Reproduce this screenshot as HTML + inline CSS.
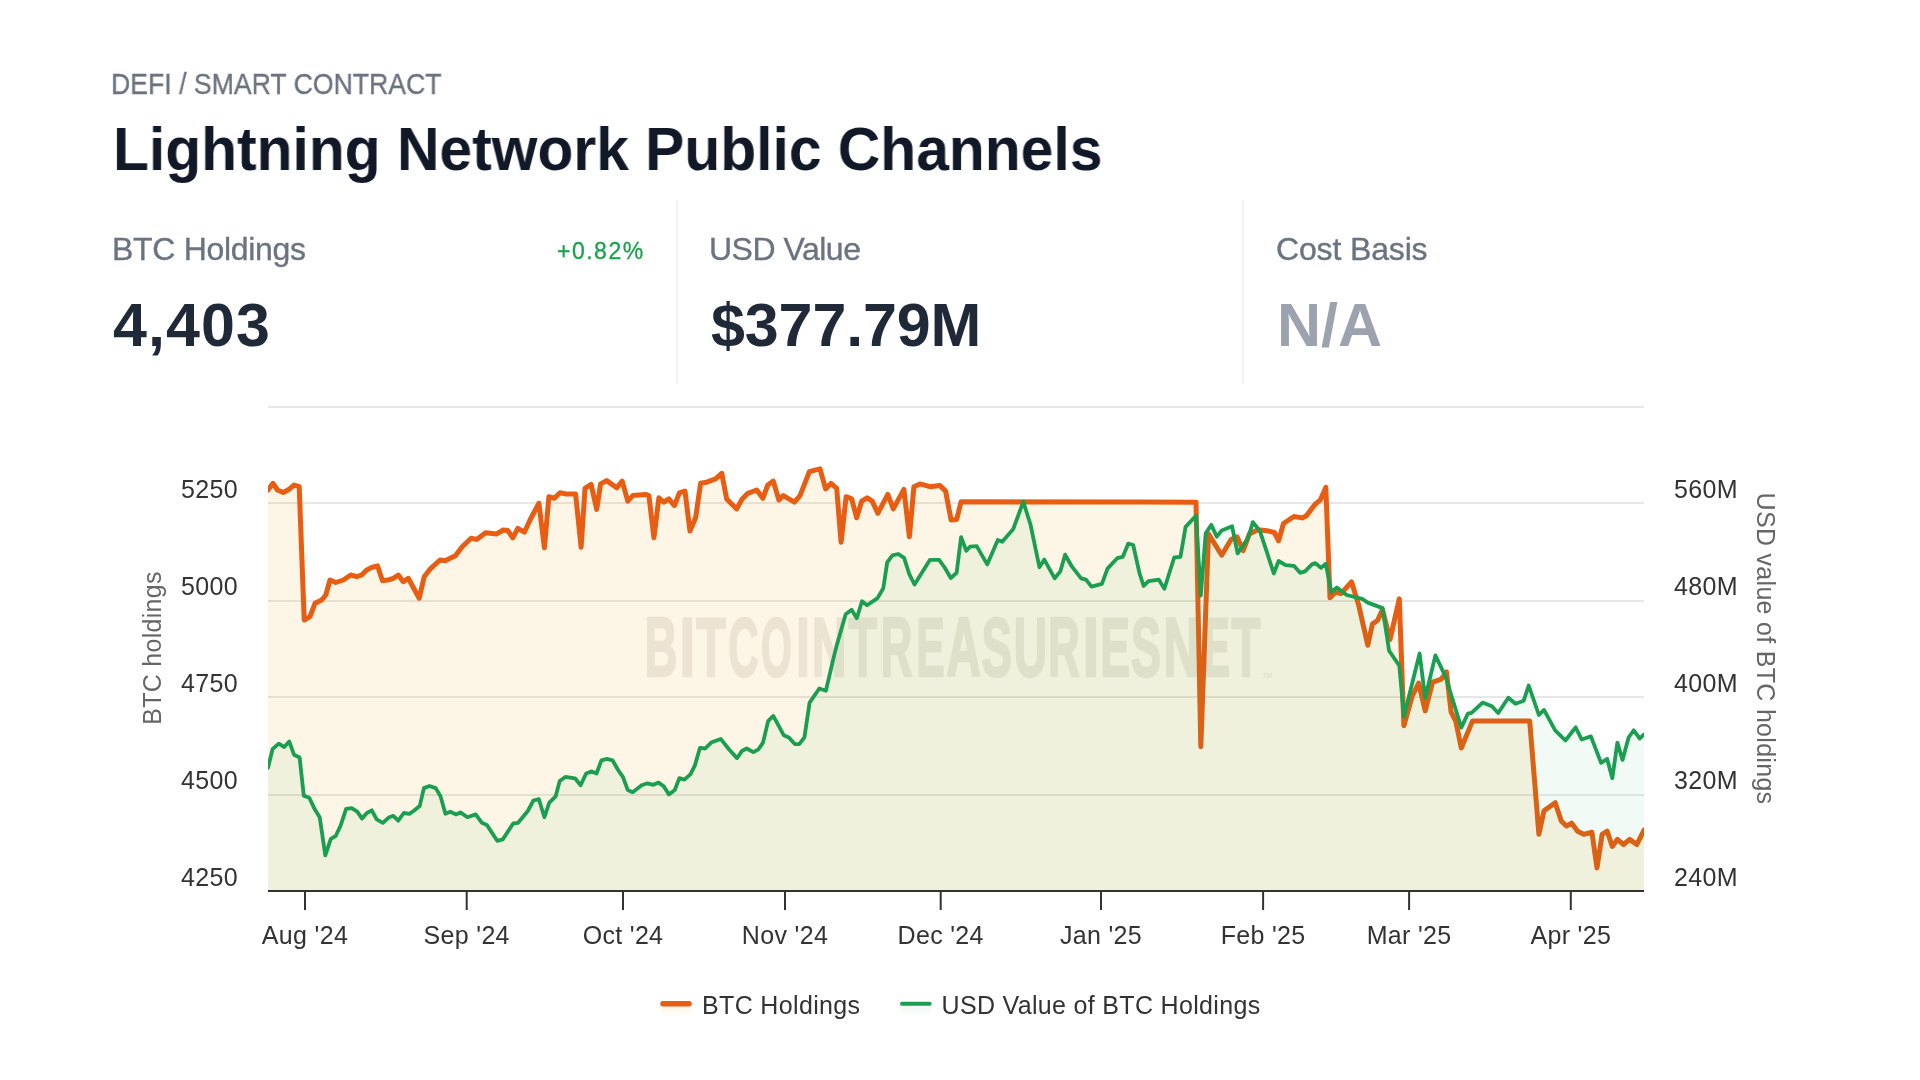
<!DOCTYPE html>
<html><head><meta charset="utf-8"><title>Lightning Network Public Channels</title>
<style>
html,body{margin:0;padding:0;background:#ffffff;}
body{width:1920px;height:1080px;position:relative;overflow:hidden;font-family:"Liberation Sans",sans-serif;}
.t{position:absolute;white-space:nowrap;line-height:1;-webkit-font-smoothing:antialiased;will-change:transform;}
svg{-webkit-font-smoothing:antialiased;will-change:transform;}
.div{position:absolute;width:2px;background:#f1f2f4;}
</style></head><body>
<div class="t" style="left:111px;top:69px;font-size:29.5px;color:#6b7280;letter-spacing:0px;transform:scaleX(0.903);transform-origin:0 0;-webkit-text-stroke:0.35px #6b7280;">DEFI / SMART CONTRACT</div>
<div class="t" style="left:113px;top:119px;font-size:61px;font-weight:bold;color:#111827;letter-spacing:0px;transform:scaleX(0.9635);transform-origin:0 0;">Lightning Network Public Channels</div>
<div class="t" style="left:112px;top:232.5px;font-size:32px;color:#6b7280;-webkit-text-stroke:0.35px #6b7280;letter-spacing:-0.3px;">BTC Holdings</div>
<div class="t" style="left:557px;top:240px;font-size:23px;color:#16a34a;letter-spacing:1.5px;-webkit-text-stroke:0.3px #16a34a;">+0.82%</div>
<div class="t" style="left:112.5px;top:295px;font-size:61px;font-weight:bold;color:#1f2937;letter-spacing:1.1px;">4,403</div>
<div class="div" style="left:676px;top:200px;height:184px;"></div>
<div class="t" style="left:709px;top:232.5px;font-size:32px;color:#6b7280;-webkit-text-stroke:0.35px #6b7280;letter-spacing:-0.5px;">USD Value</div>
<div class="t" style="left:711px;top:295px;font-size:61px;font-weight:bold;color:#1f2937;letter-spacing:-0.13px;">$377.79M</div>
<div class="div" style="left:1242px;top:200px;height:184px;"></div>
<div class="t" style="left:1276px;top:232.5px;font-size:32px;color:#6b7280;-webkit-text-stroke:0.35px #6b7280;letter-spacing:-0.15px;">Cost Basis</div>
<div class="t" style="left:1277px;top:295px;font-size:61px;font-weight:bold;color:#9ca3af;letter-spacing:0px;">N/A</div>
<svg width="1920" height="1080" viewBox="0 0 1920 1080" style="position:absolute;left:0;top:0"><rect x="268" y="406.2" width="1376" height="1.6" fill="#e2e2e2"/><rect x="268" y="502.2" width="1376" height="1.6" fill="#e2e2e2"/><rect x="268" y="600.2" width="1376" height="1.6" fill="#e2e2e2"/><rect x="268" y="696.2" width="1376" height="1.6" fill="#e2e2e2"/><rect x="268" y="794.2" width="1376" height="1.6" fill="#e2e2e2"/><g opacity="0.16" fill="#8c8670" stroke="#8c8670" stroke-width="2.40" stroke-linejoin="round" font-family="Liberation Sans" font-weight="bold" font-size="84.0"><text transform="translate(644.54 676.40) scale(0.5444 1)">B</text><text transform="translate(679.49 676.40) scale(0.6692 1)">I</text><text transform="translate(696.21 676.40) scale(0.5754 1)">T</text><text transform="translate(728.24 676.40) scale(0.5003 1)">C</text><text transform="translate(760.90 676.40) scale(0.4728 1)">O</text><text transform="translate(796.12 676.40) scale(0.5933 1)">I</text><text transform="translate(811.70 676.40) scale(0.5754 1)">N</text><text transform="translate(848.61 676.40) scale(0.5541 1)">T</text><text transform="translate(880.73 676.40) scale(0.5231 1)">R</text><text transform="translate(916.29 676.40) scale(0.5080 1)">E</text><text transform="translate(946.54 676.40) scale(0.5675 1)">A</text><text transform="translate(981.38 676.40) scale(0.5434 1)">S</text><text transform="translate(1013.78 676.40) scale(0.5513 1)">U</text><text transform="translate(1048.12 676.40) scale(0.5249 1)">R</text><text transform="translate(1082.64 676.40) scale(0.7036 1)">I</text><text transform="translate(1100.19 676.40) scale(0.5322 1)">E</text><text transform="translate(1131.09 676.40) scale(0.5358 1)">S</text><text transform="translate(1163.44 676.40) scale(0.5889 1)">N</text><text transform="translate(1203.99 676.40) scale(0.4616 1)">E</text><text transform="translate(1231.41 676.40) scale(0.5657 1)">T</text></g><text x="1262" y="678" font-family="Liberation Sans" font-size="7" fill="#8c8670" fill-opacity="0.2">TM</text><defs><clipPath id="pc"><rect x="268" y="380" width="1376" height="511"/></clipPath></defs><g clip-path="url(#pc)"><path d="M268.0 490.0 L273.0 483.3 L277.5 490.0 L283.3 492.5 L289.2 489.2 L294.2 485.0 L299.2 486.7 L304.2 620.0 L310.0 616.7 L315.0 603.3 L321.7 600.0 L325.8 595.0 L330.0 580.0 L335.8 582.5 L343.3 580.0 L350.8 575.0 L356.7 576.7 L361.7 575.0 L366.7 570.0 L371.7 567.5 L377.5 565.8 L382.5 580.8 L389.2 579.7 L393.3 578.3 L398.3 575.0 L403.3 581.7 L408.3 578.3 L419.2 598.3 L424.2 576.7 L430.0 569.2 L440.0 560.0 L445.0 560.8 L453.3 556.7 L455.6 555.6 L462.2 546.7 L471.1 538.3 L476.7 539.4 L485.6 532.8 L496.7 533.9 L503.3 530.0 L507.8 530.6 L512.8 537.8 L517.8 528.3 L524.4 532.2 L530.0 520.0 L538.9 503.3 L544.4 547.8 L548.9 496.7 L554.4 498.3 L560.0 492.8 L565.6 493.9 L575.6 493.9 L581.1 547.2 L585.0 488.3 L591.1 484.4 L596.7 509.4 L600.6 483.9 L606.7 480.6 L616.7 487.8 L622.2 481.1 L627.8 501.1 L632.8 495.6 L645.6 494.4 L648.9 495.6 L653.9 537.8 L658.9 497.8 L663.9 502.2 L668.9 498.9 L674.4 505.6 L679.4 492.8 L685.0 491.1 L690.0 531.1 L695.6 517.8 L700.6 483.3 L706.7 482.2 L715.6 478.9 L721.7 473.3 L726.7 498.9 L736.7 508.9 L742.2 498.9 L747.8 493.3 L756.7 490.0 L762.8 498.3 L767.8 485.0 L773.3 481.1 L778.9 500.0 L783.3 495.6 L794.4 502.2 L800.0 495.6 L809.4 471.7 L820.0 468.9 L825.6 488.9 L831.1 483.3 L836.7 488.3 L841.1 542.2 L846.1 496.7 L851.7 498.9 L856.7 517.8 L861.7 501.1 L867.2 497.8 L872.2 501.1 L877.8 513.3 L887.8 494.4 L893.3 508.9 L903.9 489.4 L909.4 536.7 L913.9 486.7 L920.0 483.9 L930.0 486.7 L940.0 485.6 L945.6 491.1 L951.1 520.0 L956.7 519.4 L961.1 501.7 L1196.0 502.2 L1200.8 746.7 L1208.5 533.9 L1221.7 555.2 L1231.0 539.5 L1237.0 536.8 L1243.2 550.6 L1249.4 533.9 L1257.8 529.7 L1268.9 531.1 L1274.4 532.5 L1278.6 540.8 L1283.5 523.5 L1293.9 516.5 L1302.2 517.9 L1306.4 515.8 L1314.7 504.7 L1320.3 499.9 L1325.8 487.4 L1330.0 597.8 L1335.6 592.2 L1341.1 593.6 L1351.5 581.8 L1358.5 604.4 L1367.8 645.2 L1372.5 623.8 L1377.5 620.5 L1382.5 609.5 L1390.0 639.5 L1399.3 598.9 L1403.9 725.7 L1412.2 696.1 L1418.7 683.1 L1425.2 710.9 L1432.6 682.2 L1440.9 679.4 L1446.5 672.0 L1451.1 711.9 L1455.7 721.1 L1461.3 748.0 L1472.4 721.1 L1529.7 721.1 L1538.9 834.3 L1544.0 810.8 L1555.2 802.7 L1561.3 821.0 L1566.4 826.1 L1571.5 823.1 L1577.6 831.2 L1583.8 834.3 L1591.9 832.2 L1597.0 867.9 L1602.1 834.3 L1607.2 831.2 L1612.3 846.5 L1617.4 839.4 L1623.5 844.5 L1629.6 839.4 L1636.8 844.5 L1644.0 830.2 L1644 891 L268 891 Z" fill="rgb(235,155,5)" fill-opacity="0.10"/><path d="M268.0 490.0 L273.0 483.3 L277.5 490.0 L283.3 492.5 L289.2 489.2 L294.2 485.0 L299.2 486.7 L304.2 620.0 L310.0 616.7 L315.0 603.3 L321.7 600.0 L325.8 595.0 L330.0 580.0 L335.8 582.5 L343.3 580.0 L350.8 575.0 L356.7 576.7 L361.7 575.0 L366.7 570.0 L371.7 567.5 L377.5 565.8 L382.5 580.8 L389.2 579.7 L393.3 578.3 L398.3 575.0 L403.3 581.7 L408.3 578.3 L419.2 598.3 L424.2 576.7 L430.0 569.2 L440.0 560.0 L445.0 560.8 L453.3 556.7 L455.6 555.6 L462.2 546.7 L471.1 538.3 L476.7 539.4 L485.6 532.8 L496.7 533.9 L503.3 530.0 L507.8 530.6 L512.8 537.8 L517.8 528.3 L524.4 532.2 L530.0 520.0 L538.9 503.3 L544.4 547.8 L548.9 496.7 L554.4 498.3 L560.0 492.8 L565.6 493.9 L575.6 493.9 L581.1 547.2 L585.0 488.3 L591.1 484.4 L596.7 509.4 L600.6 483.9 L606.7 480.6 L616.7 487.8 L622.2 481.1 L627.8 501.1 L632.8 495.6 L645.6 494.4 L648.9 495.6 L653.9 537.8 L658.9 497.8 L663.9 502.2 L668.9 498.9 L674.4 505.6 L679.4 492.8 L685.0 491.1 L690.0 531.1 L695.6 517.8 L700.6 483.3 L706.7 482.2 L715.6 478.9 L721.7 473.3 L726.7 498.9 L736.7 508.9 L742.2 498.9 L747.8 493.3 L756.7 490.0 L762.8 498.3 L767.8 485.0 L773.3 481.1 L778.9 500.0 L783.3 495.6 L794.4 502.2 L800.0 495.6 L809.4 471.7 L820.0 468.9 L825.6 488.9 L831.1 483.3 L836.7 488.3 L841.1 542.2 L846.1 496.7 L851.7 498.9 L856.7 517.8 L861.7 501.1 L867.2 497.8 L872.2 501.1 L877.8 513.3 L887.8 494.4 L893.3 508.9 L903.9 489.4 L909.4 536.7 L913.9 486.7 L920.0 483.9 L930.0 486.7 L940.0 485.6 L945.6 491.1 L951.1 520.0 L956.7 519.4 L961.1 501.7 L1196.0 502.2 L1200.8 746.7 L1208.5 533.9 L1221.7 555.2 L1231.0 539.5 L1237.0 536.8 L1243.2 550.6 L1249.4 533.9 L1257.8 529.7 L1268.9 531.1 L1274.4 532.5 L1278.6 540.8 L1283.5 523.5 L1293.9 516.5 L1302.2 517.9 L1306.4 515.8 L1314.7 504.7 L1320.3 499.9 L1325.8 487.4 L1330.0 597.8 L1335.6 592.2 L1341.1 593.6 L1351.5 581.8 L1358.5 604.4 L1367.8 645.2 L1372.5 623.8 L1377.5 620.5 L1382.5 609.5 L1390.0 639.5 L1399.3 598.9 L1403.9 725.7 L1412.2 696.1 L1418.7 683.1 L1425.2 710.9 L1432.6 682.2 L1440.9 679.4 L1446.5 672.0 L1451.1 711.9 L1455.7 721.1 L1461.3 748.0 L1472.4 721.1 L1529.7 721.1 L1538.9 834.3 L1544.0 810.8 L1555.2 802.7 L1561.3 821.0 L1566.4 826.1 L1571.5 823.1 L1577.6 831.2 L1583.8 834.3 L1591.9 832.2 L1597.0 867.9 L1602.1 834.3 L1607.2 831.2 L1612.3 846.5 L1617.4 839.4 L1623.5 844.5 L1629.6 839.4 L1636.8 844.5 L1644.0 830.2" fill="none" stroke="#e85d12" stroke-width="5" stroke-linejoin="round" stroke-linecap="round"/><path d="M268.0 767.9 L272.5 749.2 L278.8 743.6 L284.3 747.1 L289.2 741.5 L294.0 754.7 L299.6 757.5 L303.8 795.7 L309.3 797.8 L314.9 809.6 L319.7 817.2 L325.3 855.4 L330.8 838.8 L335.7 836.0 L340.6 825.6 L346.1 808.9 L351.7 808.2 L357.2 811.7 L362.1 818.6 L366.9 813.0 L371.8 810.3 L376.7 819.3 L382.9 822.8 L389.2 817.2 L393.3 815.8 L398.2 820.7 L403.8 813.0 L409.3 813.8 L413.5 811.0 L419.7 806.1 L423.9 788.1 L429.4 786.0 L435.7 788.1 L440.6 796.4 L445.4 813.8 L450.3 811.7 L455.8 814.4 L460.4 812.4 L467.4 817.2 L475.7 814.4 L481.9 822.8 L486.8 824.9 L497.2 840.8 L502.8 839.4 L513.2 823.5 L518.1 822.8 L527.8 811.0 L533.3 800.6 L538.9 799.2 L544.4 817.2 L549.3 802.6 L555.6 796.4 L559.7 781.1 L565.3 776.9 L575.0 778.3 L580.6 785.3 L586.1 773.5 L591.7 771.4 L596.5 773.5 L601.4 760.3 L606.9 758.9 L612.5 760.3 L618.1 770.0 L622.9 776.9 L627.8 790.1 L632.6 792.2 L641.7 785.3 L647.4 783.3 L653.3 784.8 L658.5 782.6 L663.7 786.3 L668.9 794.4 L674.8 790.0 L679.3 778.1 L684.4 779.6 L690.4 774.4 L694.8 765.6 L700.0 747.8 L705.2 748.5 L711.1 742.6 L720.7 738.9 L728.9 749.3 L737.0 758.1 L742.2 750.7 L746.7 748.5 L753.3 752.2 L758.5 749.3 L763.0 742.6 L768.1 721.1 L773.3 715.9 L783.7 735.2 L788.9 737.4 L794.8 744.1 L799.3 744.1 L804.4 737.4 L809.6 702.6 L819.3 688.5 L825.9 690.7 L832.6 661.9 L836.7 645.4 L845.7 614.3 L851.6 609.7 L856.8 618.2 L862.0 601.3 L867.1 605.2 L877.5 598.1 L883.3 588.3 L887.2 562.4 L892.4 555.3 L898.3 554.0 L904.1 557.9 L909.3 574.1 L914.5 584.5 L930.0 559.8 L939.1 559.8 L944.3 567.0 L950.8 578.0 L956.6 572.8 L961.1 537.1 L966.3 550.7 L970.0 546.7 L976.7 546.1 L987.2 564.4 L997.8 540.0 L1002.2 541.7 L1013.3 528.9 L1023.3 501.7 L1030.4 524.2 L1039.4 567.2 L1044.3 559.6 L1054.7 578.3 L1060.3 571.4 L1065.1 554.7 L1071.4 565.8 L1081.1 578.3 L1086.0 579.7 L1091.5 586.7 L1101.9 583.9 L1107.5 568.6 L1117.2 558.2 L1122.8 556.8 L1128.3 543.6 L1133.2 545.0 L1139.4 572.8 L1143.6 586.0 L1148.5 581.1 L1158.9 579.7 L1164.4 588.8 L1174.2 557.5 L1180.4 556.8 L1185.6 526.9 L1196.0 515.8 L1200.8 595.7 L1205.7 533.2 L1211.3 524.9 L1216.8 536.7 L1221.7 530.4 L1232.1 526.3 L1237.6 553.3 L1248.1 538.1 L1252.9 522.1 L1259.9 531.1 L1266.8 551.9 L1273.8 573.5 L1278.6 561.0 L1285.6 565.1 L1293.9 565.8 L1300.1 572.8 L1305.0 571.4 L1311.9 564.4 L1315.4 563.1 L1321.0 567.9 L1325.8 563.8 L1331.4 592.2 L1336.9 587.4 L1346.7 595.0 L1362.2 598.9 L1367.8 602.6 L1382.6 608.1 L1389.1 650.7 L1399.3 665.6 L1403.9 716.5 L1419.6 653.5 L1425.2 698.0 L1435.4 655.4 L1445.6 676.7 L1461.3 727.6 L1467.8 713.7 L1471.5 712.8 L1482.6 702.6 L1491.9 706.3 L1498.2 713.0 L1508.3 697.7 L1515.5 703.8 L1523.6 700.8 L1528.7 685.5 L1538.9 715.0 L1544.0 709.9 L1555.2 730.3 L1565.4 740.5 L1575.6 727.3 L1581.7 739.5 L1590.9 736.4 L1601.1 762.9 L1607.2 758.9 L1612.3 778.2 L1617.4 742.6 L1622.5 759.9 L1628.6 737.5 L1633.7 730.3 L1639.8 738.5 L1644.0 734.4 L1644 891 L268 891 Z" fill="#16a34a" fill-opacity="0.06"/><path d="M268.0 767.9 L272.5 749.2 L278.8 743.6 L284.3 747.1 L289.2 741.5 L294.0 754.7 L299.6 757.5 L303.8 795.7 L309.3 797.8 L314.9 809.6 L319.7 817.2 L325.3 855.4 L330.8 838.8 L335.7 836.0 L340.6 825.6 L346.1 808.9 L351.7 808.2 L357.2 811.7 L362.1 818.6 L366.9 813.0 L371.8 810.3 L376.7 819.3 L382.9 822.8 L389.2 817.2 L393.3 815.8 L398.2 820.7 L403.8 813.0 L409.3 813.8 L413.5 811.0 L419.7 806.1 L423.9 788.1 L429.4 786.0 L435.7 788.1 L440.6 796.4 L445.4 813.8 L450.3 811.7 L455.8 814.4 L460.4 812.4 L467.4 817.2 L475.7 814.4 L481.9 822.8 L486.8 824.9 L497.2 840.8 L502.8 839.4 L513.2 823.5 L518.1 822.8 L527.8 811.0 L533.3 800.6 L538.9 799.2 L544.4 817.2 L549.3 802.6 L555.6 796.4 L559.7 781.1 L565.3 776.9 L575.0 778.3 L580.6 785.3 L586.1 773.5 L591.7 771.4 L596.5 773.5 L601.4 760.3 L606.9 758.9 L612.5 760.3 L618.1 770.0 L622.9 776.9 L627.8 790.1 L632.6 792.2 L641.7 785.3 L647.4 783.3 L653.3 784.8 L658.5 782.6 L663.7 786.3 L668.9 794.4 L674.8 790.0 L679.3 778.1 L684.4 779.6 L690.4 774.4 L694.8 765.6 L700.0 747.8 L705.2 748.5 L711.1 742.6 L720.7 738.9 L728.9 749.3 L737.0 758.1 L742.2 750.7 L746.7 748.5 L753.3 752.2 L758.5 749.3 L763.0 742.6 L768.1 721.1 L773.3 715.9 L783.7 735.2 L788.9 737.4 L794.8 744.1 L799.3 744.1 L804.4 737.4 L809.6 702.6 L819.3 688.5 L825.9 690.7 L832.6 661.9 L836.7 645.4 L845.7 614.3 L851.6 609.7 L856.8 618.2 L862.0 601.3 L867.1 605.2 L877.5 598.1 L883.3 588.3 L887.2 562.4 L892.4 555.3 L898.3 554.0 L904.1 557.9 L909.3 574.1 L914.5 584.5 L930.0 559.8 L939.1 559.8 L944.3 567.0 L950.8 578.0 L956.6 572.8 L961.1 537.1 L966.3 550.7 L970.0 546.7 L976.7 546.1 L987.2 564.4 L997.8 540.0 L1002.2 541.7 L1013.3 528.9 L1023.3 501.7 L1030.4 524.2 L1039.4 567.2 L1044.3 559.6 L1054.7 578.3 L1060.3 571.4 L1065.1 554.7 L1071.4 565.8 L1081.1 578.3 L1086.0 579.7 L1091.5 586.7 L1101.9 583.9 L1107.5 568.6 L1117.2 558.2 L1122.8 556.8 L1128.3 543.6 L1133.2 545.0 L1139.4 572.8 L1143.6 586.0 L1148.5 581.1 L1158.9 579.7 L1164.4 588.8 L1174.2 557.5 L1180.4 556.8 L1185.6 526.9 L1196.0 515.8 L1200.8 595.7 L1205.7 533.2 L1211.3 524.9 L1216.8 536.7 L1221.7 530.4 L1232.1 526.3 L1237.6 553.3 L1248.1 538.1 L1252.9 522.1 L1259.9 531.1 L1266.8 551.9 L1273.8 573.5 L1278.6 561.0 L1285.6 565.1 L1293.9 565.8 L1300.1 572.8 L1305.0 571.4 L1311.9 564.4 L1315.4 563.1 L1321.0 567.9 L1325.8 563.8 L1331.4 592.2 L1336.9 587.4 L1346.7 595.0 L1362.2 598.9 L1367.8 602.6 L1382.6 608.1 L1389.1 650.7 L1399.3 665.6 L1403.9 716.5 L1419.6 653.5 L1425.2 698.0 L1435.4 655.4 L1445.6 676.7 L1461.3 727.6 L1467.8 713.7 L1471.5 712.8 L1482.6 702.6 L1491.9 706.3 L1498.2 713.0 L1508.3 697.7 L1515.5 703.8 L1523.6 700.8 L1528.7 685.5 L1538.9 715.0 L1544.0 709.9 L1555.2 730.3 L1565.4 740.5 L1575.6 727.3 L1581.7 739.5 L1590.9 736.4 L1601.1 762.9 L1607.2 758.9 L1612.3 778.2 L1617.4 742.6 L1622.5 759.9 L1628.6 737.5 L1633.7 730.3 L1639.8 738.5 L1644.0 734.4" fill="none" stroke="#1a9e50" stroke-width="3.8" stroke-linejoin="round" stroke-linecap="round"/></g><rect x="268" y="890" width="1376" height="2" fill="#333333"/><rect x="304.0" y="891" width="2" height="19" fill="#333333"/><rect x="465.7" y="891" width="2" height="19" fill="#333333"/><rect x="622.0" y="891" width="2" height="19" fill="#333333"/><rect x="784.0" y="891" width="2" height="19" fill="#333333"/><rect x="939.7" y="891" width="2" height="19" fill="#333333"/><rect x="1100.0" y="891" width="2" height="19" fill="#333333"/><rect x="1262.1" y="891" width="2" height="19" fill="#333333"/><rect x="1408.1" y="891" width="2" height="19" fill="#333333"/><rect x="1569.8" y="891" width="2" height="19" fill="#333333"/><text x="305.0" y="944" text-anchor="middle" font-family="Liberation Sans" font-size="25" letter-spacing="0.33" fill="#333333">Aug '24</text><text x="466.7" y="944" text-anchor="middle" font-family="Liberation Sans" font-size="25" letter-spacing="0.33" fill="#333333">Sep '24</text><text x="623.0" y="944" text-anchor="middle" font-family="Liberation Sans" font-size="25" letter-spacing="0.33" fill="#333333">Oct '24</text><text x="785.0" y="944" text-anchor="middle" font-family="Liberation Sans" font-size="25" letter-spacing="0.33" fill="#333333">Nov '24</text><text x="940.7" y="944" text-anchor="middle" font-family="Liberation Sans" font-size="25" letter-spacing="0.33" fill="#333333">Dec '24</text><text x="1101.0" y="944" text-anchor="middle" font-family="Liberation Sans" font-size="25" letter-spacing="0.33" fill="#333333">Jan '25</text><text x="1263.1" y="944" text-anchor="middle" font-family="Liberation Sans" font-size="25" letter-spacing="0.33" fill="#333333">Feb '25</text><text x="1409.1" y="944" text-anchor="middle" font-family="Liberation Sans" font-size="25" letter-spacing="0.33" fill="#333333">Mar '25</text><text x="1570.8" y="944" text-anchor="middle" font-family="Liberation Sans" font-size="25" letter-spacing="0.33" fill="#333333">Apr '25</text><text x="238" y="498.0" text-anchor="end" font-family="Liberation Sans" font-size="25" letter-spacing="0.33" fill="#333333">5250</text><text x="238" y="595.0" text-anchor="end" font-family="Liberation Sans" font-size="25" letter-spacing="0.33" fill="#333333">5000</text><text x="238" y="692.0" text-anchor="end" font-family="Liberation Sans" font-size="25" letter-spacing="0.33" fill="#333333">4750</text><text x="238" y="789.0" text-anchor="end" font-family="Liberation Sans" font-size="25" letter-spacing="0.33" fill="#333333">4500</text><text x="238" y="886.0" text-anchor="end" font-family="Liberation Sans" font-size="25" letter-spacing="0.33" fill="#333333">4250</text><text x="1674" y="498.0" text-anchor="start" font-family="Liberation Sans" font-size="25" letter-spacing="0.33" fill="#333333">560M</text><text x="1674" y="595.0" text-anchor="start" font-family="Liberation Sans" font-size="25" letter-spacing="0.33" fill="#333333">480M</text><text x="1674" y="692.0" text-anchor="start" font-family="Liberation Sans" font-size="25" letter-spacing="0.33" fill="#333333">400M</text><text x="1674" y="789.0" text-anchor="start" font-family="Liberation Sans" font-size="25" letter-spacing="0.33" fill="#333333">320M</text><text x="1674" y="886.0" text-anchor="start" font-family="Liberation Sans" font-size="25" letter-spacing="0.33" fill="#333333">240M</text><text transform="translate(161,648) rotate(-90)" text-anchor="middle" font-family="Liberation Sans" font-size="25" letter-spacing="0.3" fill="#666666">BTC holdings</text><text transform="translate(1757,648.5) rotate(90)" text-anchor="middle" font-family="Liberation Sans" font-size="25" letter-spacing="0.3" fill="#666666">USD value of BTC holdings</text><defs><linearGradient id="lg1" x1="0" y1="0" x2="0" y2="1"><stop offset="0" stop-color="rgb(235,155,5)" stop-opacity="0.12"/><stop offset="1" stop-color="rgb(235,155,5)" stop-opacity="0"/></linearGradient><linearGradient id="lg2" x1="0" y1="0" x2="0" y2="1"><stop offset="0" stop-color="#16a34a" stop-opacity="0.08"/><stop offset="1" stop-color="#16a34a" stop-opacity="0"/></linearGradient></defs><rect x="661" y="1004" width="30" height="13" fill="url(#lg1)"/><line x1="663" y1="1003.8" x2="689" y2="1003.8" stroke="#e85d12" stroke-width="5.5" stroke-linecap="round"/><text x="702" y="1014" font-family="Liberation Sans" font-size="25" letter-spacing="0.35" fill="#333333">BTC Holdings</text><rect x="900" y="1004" width="31" height="13" fill="url(#lg2)"/><line x1="902" y1="1003.8" x2="929.6" y2="1003.8" stroke="#1a9e50" stroke-width="4" stroke-linecap="round"/><text x="941.5" y="1014" font-family="Liberation Sans" font-size="25" letter-spacing="0.33" fill="#333333">USD Value of BTC Holdings</text></svg>
</body></html>
